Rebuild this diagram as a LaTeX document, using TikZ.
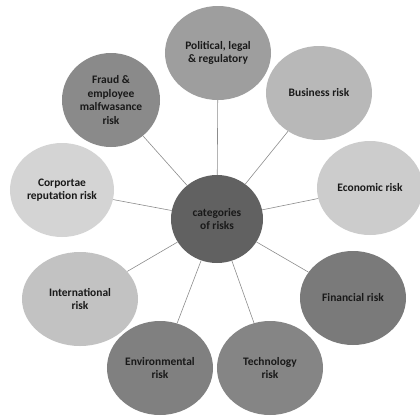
\documentclass[tikz,border=0pt]{standalone}
\usepackage{fontspec}
\setmainfont{Carlito}
\usetikzlibrary{shapes.geometric}
\tikzset{
  risk/.style={ellipse, inner sep=-3pt, minimum width=106bp, minimum height=94bp,
    align=center, font=\bfseries\fontsize{11.5}{13.5}\selectfont, text=black!90},
  link/.style={draw=black!45, line width=0.6pt},
}
\begin{document}
\begin{tikzpicture}[x=1bp,y=-1bp]
\useasboundingbox (0,0) rectangle (420,417);
\node[risk, fill=black!62, minimum width=92bp, minimum height=88bp] (c) at (217,219) {categories\\of risks};
\node[risk, fill=black!38] (pol) at (218,53) {Political, legal\\\& regulatory};
\node[risk, fill=black!28] (bus) at (319,93) {Business risk};
\node[risk, fill=black!20] (eco) at (370,188) {Economic risk};
\node[risk, fill=black!52] (fin) at (353,298) {Financial risk};
\node[risk, fill=black!48] (tec) at (270,368) {Technology\\risk};
\node[risk, fill=black!50] (env) at (160,368) {Environmental\\risk};
\node[risk, fill=black!24, minimum width=116bp] (int) at (80,299) {International\\risk};
\node[risk, fill=black!17, minimum width=104bp] (cor) at (62,190) {Corportae\\reputation risk};
\node[risk, fill=black!46, minimum width=98bp] (fra) at (111,100) {Fraud \&\\employee\\malfwasance\\risk};
\foreach \n in {pol,bus,eco,fin,tec,env,int,cor,fra}
  \draw[link] (c) -- (\n);
\end{tikzpicture}
\end{document}
